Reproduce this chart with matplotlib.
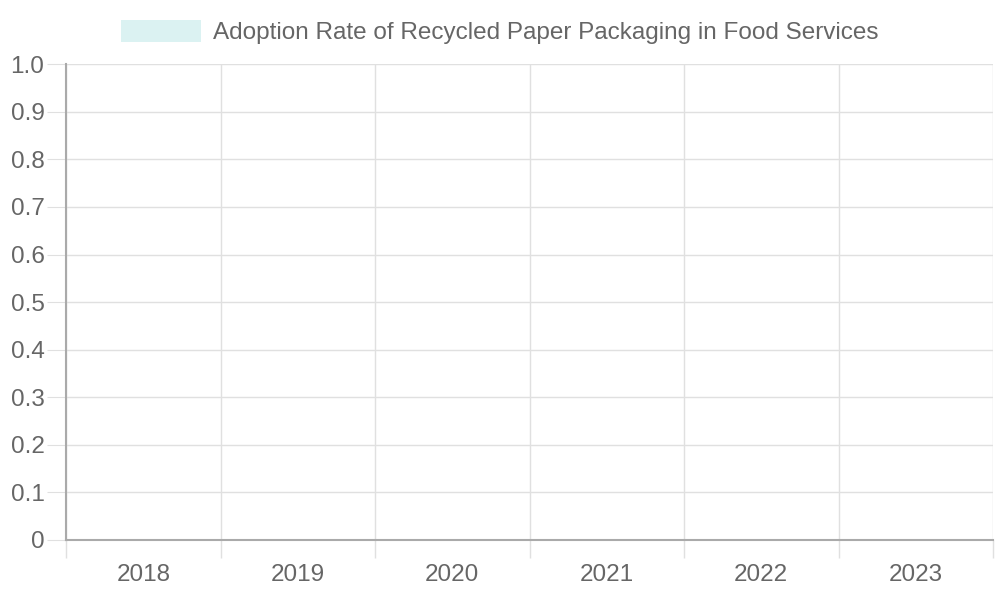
import numpy as np
import matplotlib.pyplot as plt

plt.rcParams['font.family'] = ['Liberation Sans', 'DejaVu Sans']

# data (the chart shows no visible bars)
years = ['2018', '2019', '2020', '2021', '2022', '2023']
adoption_rate = [0, 0, 0, 0, 0, 0]
series_label = 'Adoption Rate of Recycled Paper Packaging in Food Services'

fig = plt.figure(figsize=(10, 6), dpi=100)
ax = fig.add_axes([0.066, 0.1, 0.927, 0.793])

x = np.arange(len(years))
ax.bar(x, adoption_rate, width=0.8, color='#dbf2f2', label=series_label)

ax.set_xlim(-0.5, len(years) - 0.5)
ax.set_ylim(0, 1.0)
ax.set_xticks(x)
ax.set_xticklabels(years)
ax.set_yticks(np.arange(0, 1.01, 0.1))
ax.set_yticklabels(['0'] + [f'{v:.1f}' for v in np.arange(0.1, 1.01, 0.1)])

# grid lines between categories, like the reference
bounds = np.arange(-0.5, len(years), 1.0)
ax.set_xticks(bounds, minor=True)
ax.grid(True, axis='x', which='minor', color='#e0e0e0', linewidth=1)
ax.grid(True, axis='y', which='major', color='#e0e0e0', linewidth=1)
ax.set_axisbelow(True)

ax.tick_params(axis='x', which='major', length=0, labelsize=17.5, colors='#666666', pad=17)
ax.tick_params(axis='x', which='minor', length=13, color='#e0e0e0', width=1)
ax.tick_params(axis='y', length=14, labelsize=17.5, colors='#666666', color='#e0e0e0', pad=1.5)

for side in ['top', 'right']:
    ax.spines[side].set_visible(False)
for side in ['left', 'bottom']:
    ax.spines[side].set_color('#aaaaaa')
    ax.spines[side].set_linewidth(1.5)

fig.legend(loc='center', bbox_to_anchor=(0.5, 1 - 32 / 600), frameon=False,
           fontsize=17.5, labelcolor='#666666', handlelength=3.3, handleheight=1.0,
           handletextpad=0.5, borderpad=0)

fig.savefig('out.png')
